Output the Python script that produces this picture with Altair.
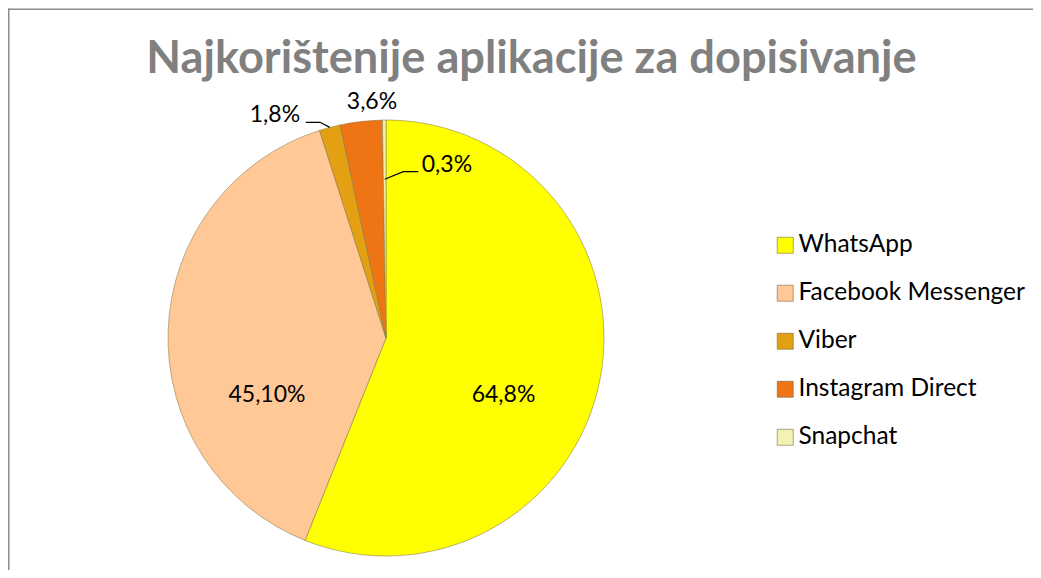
import math
import altair as alt
import pandas as pd

# ---- data ----
categories = ["WhatsApp", "Facebook Messenger", "Viber", "Instagram Direct", "Snapchat"]
values = [64.8, 45.1, 1.8, 3.6, 0.3]
value_labels = ["64,8%", "45,10%", "1,8%", "3,6%", "0,3%"]
colors = ["#FFFF00", "#FFC896", "#E3A012", "#EE7414", "#F2F2B5"]
title_text = "Najkorištenije aplikacije za dopisivanje"

# ---- layout (chart pixel space) ----
W, H = 1025, 562
CX, CY, R = 378, 330, 218
label_angle = [115.9, 244.4, 333.5, 356.6, 19.4]      # degrees clockwise from 12 o'clock
label_radius = [130.6, 132.0, 249.0, 236.4, 183.4]

total = sum(values)
cum = 0.0
mid_angle = []
for v in values:
    mid_angle.append((cum + v / 2) / total * 360.0)
    cum += v

def polar(a, r):
    t = math.radians(a)
    return CX + r * math.sin(t), CY - r * math.cos(t)

pie_df = pd.DataFrame({"cat": categories, "val": values, "ord": list(range(len(values)))})

lab_rows = []
for lab, a, r in zip(value_labels, label_angle, label_radius):
    x, y = polar(a, r)
    lab_rows.append({"lab": lab, "px": x, "py": y})
lab_df = pd.DataFrame(lab_rows)

# leader lines: first point anchored at the slice's mid angle
leaders = [
    (2, [(None, 218.0), (343.0, 225.6), (339.6, 230.1)]),
    (4, [(None, 158.7), (5.94, 167.2), (10.99, 169.4)]),
]
lead_rows = []
for g, (idx, pts) in enumerate(leaders):
    for k, (a, r) in enumerate(pts):
        aa = mid_angle[idx] if a is None else a
        x, y = polar(aa, r)
        lead_rows.append({"g": g, "k": k, "px": x, "py": y})
lead_df = pd.DataFrame(lead_rows)

color_scale = alt.Scale(domain=categories, range=colors)

one = pd.DataFrame({"a": [0]})
frame_top = alt.Chart(one).mark_rule(color="#8c8c8c", strokeWidth=1.5).encode(
    x=alt.value(0), x2=alt.value(W), y=alt.value(1.25)
)
frame_left = alt.Chart(one).mark_rule(color="#8c8c8c", strokeWidth=1.5).encode(
    x=alt.value(0.75), y=alt.value(0.5), y2=alt.value(H)
)

pie = alt.Chart(pie_df).mark_arc(
    radius=R, stroke="#8a7a4a", strokeWidth=0.8, strokeOpacity=0.7
).encode(
    theta=alt.Theta("val:Q", stack=True),
    order=alt.Order("ord:Q"),
    color=alt.Color(
        "cat:N", scale=color_scale, sort=categories,
        legend=alt.Legend(
            title=None, orient="none", legendX=765, legendY=225,
            symbolType="square", symbolSize=256, symbolStrokeWidth=0.6,
            symbolStrokeColor="#7a6a40",
            labelFont="Lato", labelFontSize=24.5, labelColor="#000000",
            labelOffset=1, rowPadding=23, padding=0, labelLimit=400,
        ),
    ),
    x=alt.value(CX), y=alt.value(CY),
)

labels = alt.Chart(lab_df).mark_text(
    font="Lato", fontSize=23, color="#000000", align="center", baseline="middle"
).encode(
    x=alt.X("px:Q", scale=None), y=alt.Y("py:Q", scale=None), text="lab:N"
)

lines = alt.Chart(lead_df).mark_line(color="#000000", strokeWidth=1.2).encode(
    x=alt.X("px:Q", scale=None), y=alt.Y("py:Q", scale=None),
    detail="g:N", order="k:Q",
)

title = alt.Chart(pd.DataFrame({"t": [title_text]})).mark_text(
    font="Lato", fontSize=45.2, fontWeight="bold", color="#808080",
    align="center", baseline="alphabetic"
).encode(x=alt.value(523.5), y=alt.value(65), text="t:N")

chart = alt.layer(frame_top, frame_left, pie, lines, labels, title).properties(
    width=W, height=H, autosize=alt.AutoSizeParams(type="none"), padding=0
).configure_view(stroke=None)

chart.save("out.html", embed_options={"renderer": "svg", "actions": False})
